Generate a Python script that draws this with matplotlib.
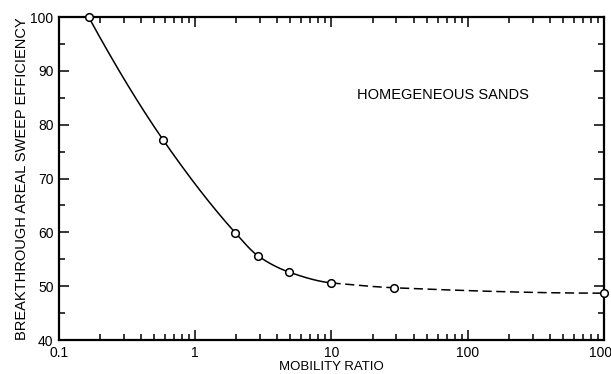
import numpy as np
import matplotlib.pyplot as plt
from matplotlib.ticker import FixedLocator, FixedFormatter, LogLocator, NullFormatter

plt.rcParams['font.family'] = ['Liberation Sans', 'DejaVu Sans']

# valores
mobility_solid = [0.165, 0.58, 1.97, 2.9, 4.9, 10.0]
sweep_solid = [100.0, 77.2, 59.9, 55.6, 52.6, 50.6]
mobility_dashed = [10.0, 29.0, 1000.0]
sweep_dashed = [50.6, 49.7, 48.7]

x_ticks = [0.1, 1, 10, 100, 1000]
x_tick_labels = ['0.1', '1', '10', '100', '1000']
y_ticks = [40, 50, 60, 70, 80, 90, 100]


def smooth_curve(x, y, n=200):
    """Curva suave (Hermite monotona) en espacio log(x), solo para dibujar la linea."""
    lx = np.log10(x)
    y = np.asarray(y, dtype=float)
    h = np.diff(lx)
    d = np.diff(y) / h
    m = np.zeros_like(y)
    if len(y) > 2:
        m[0] = ((2 * h[0] + h[1]) * d[0] - h[0] * d[1]) / (h[0] + h[1])
        m[-1] = ((2 * h[-1] + h[-2]) * d[-1] - h[-1] * d[-2]) / (h[-1] + h[-2])
        if m[0] * d[0] <= 0:
            m[0] = 0
        if m[-1] * d[-1] <= 0:
            m[-1] = 0
    else:
        m[0], m[-1] = d[0], d[-1]
    for i in range(1, len(y) - 1):
        if d[i - 1] * d[i] > 0:
            w1 = 2 * h[i] + h[i - 1]
            w2 = h[i] + 2 * h[i - 1]
            m[i] = (w1 + w2) / (w1 / d[i - 1] + w2 / d[i])
    xs, ys = [], []
    for i in range(len(h)):
        t = np.linspace(0, 1, n)
        h00 = 2 * t**3 - 3 * t**2 + 1
        h10 = t**3 - 2 * t**2 + t
        h01 = -2 * t**3 + 3 * t**2
        h11 = t**3 - t**2
        xs.append(lx[i] + t * h[i])
        ys.append(h00 * y[i] + h10 * h[i] * m[i] + h01 * y[i + 1] + h11 * h[i] * m[i + 1])
    return 10 ** np.concatenate(xs), np.concatenate(ys)


fig = plt.figure(figsize=(6.11, 3.74), dpi=100)
ax = fig.add_axes([0.0966, 0.0909, 0.8919, 0.8636])

xs, ys = smooth_curve(mobility_solid, sweep_solid)
ax.plot(xs, ys, color='black', lw=1.1, solid_capstyle='butt')
xd, yd = smooth_curve(mobility_dashed, sweep_dashed)
ax.plot(xd, yd, color='black', lw=1.1, dashes=(6, 3))

ax.plot(mobility_solid + mobility_dashed[1:], sweep_solid + sweep_dashed[1:], 'o',
        ms=5.5, mfc='white', mec='black', mew=1.1, clip_on=False, zorder=5)

ax.set_xscale('log')
ax.set_xlim(0.1, 1000)
ax.set_ylim(40, 100)
ax.xaxis.set_major_locator(FixedLocator(x_ticks))
ax.xaxis.set_major_formatter(FixedFormatter(x_tick_labels))
ax.xaxis.set_minor_locator(LogLocator(base=10, subs=np.arange(2, 10)))
ax.xaxis.set_minor_formatter(NullFormatter())
ax.set_yticks(y_ticks)
ax.set_yticks(np.arange(45, 100, 10), minor=True)

ax.tick_params(which='both', direction='in', top=True, right=True, width=1.1,
               labelsize=10, pad=4)
ax.tick_params(which='major', length=7)
ax.tick_params(which='minor', length=4)
for s in ax.spines.values():
    s.set_linewidth(1.6)

ax.text(66, 85.5, 'HOMEGENEOUS SANDS', ha='center', va='center', fontsize=10.5)
ax.set_xlabel('MOBILITY RATIO', fontsize=9.5, labelpad=1)
ax.set_ylabel('BREAKTHROUGH AREAL SWEEP EFFICIENCY', fontsize=10.5, labelpad=1)

fig.savefig('out.png', dpi=100)
